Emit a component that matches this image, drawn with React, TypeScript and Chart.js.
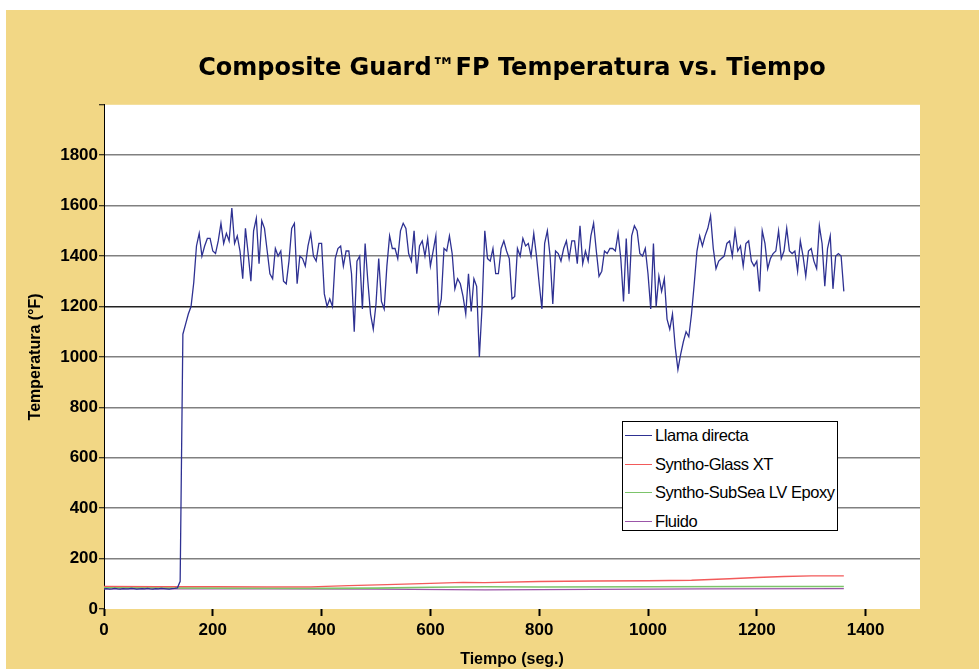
import React, { useEffect, useRef } from "react";
import { Chart, registerables } from "chart.js";

Chart.register(...registerables);

// Sampling interval of the "Llama directa" record (seconds)
const SAMPLE_STEP_S = 5;

// Llama directa (°F), one value every 5 s from t = 0 to t = 1360 s
const LLAMA_DIRECTA = [
  80, 81, 79, 80, 82, 80, 79, 81, 80, 80, 82, 81, 79, 80, 81, 80, 82, 80, 79, 81, 80, 82, 81, 80, 79, 81, 82,
  84, 110, 1090,
  1130, 1170, 1200, 1295, 1440, 1490, 1400, 1440, 1470, 1470, 1420, 1410, 1460, 1530, 1450, 1490, 1460, 1590,
  1450, 1480, 1420, 1310, 1510, 1410, 1300, 1500, 1550, 1370, 1540, 1510, 1420, 1330, 1310, 1430, 1400, 1420,
  1300, 1290, 1380, 1510, 1530, 1290, 1400, 1390, 1360, 1440, 1490, 1400, 1380, 1450, 1450, 1250, 1200, 1230,
  1200, 1390, 1430, 1440, 1360, 1420, 1420,
  1330, 1100, 1380, 1400, 1190, 1450, 1300, 1170, 1110, 1210, 1390, 1220, 1190, 1360, 1480, 1430, 1430, 1390,
  1500, 1530, 1510, 1410, 1380, 1500, 1330, 1440, 1460, 1400, 1470, 1360, 1420, 1480, 1180, 1230, 1430, 1420,
  1480, 1410, 1270, 1310, 1290, 1240, 1170, 1330, 1180, 1310, 1280, 1000, 1200, 1500, 1390, 1380, 1430, 1330,
  1330, 1430, 1460, 1420, 1390, 1230, 1240, 1430, 1400, 1470, 1440, 1450, 1400,
  1490, 1400, 1290, 1190, 1450, 1500, 1400, 1210, 1420, 1410, 1380, 1430, 1460, 1390, 1460, 1460, 1370, 1520,
  1370, 1420, 1380, 1480, 1530, 1420, 1320, 1340, 1420, 1410, 1430, 1430, 1420, 1490, 1390, 1220, 1470, 1250,
  1480, 1520, 1500, 1410, 1400, 1430, 1330, 1190, 1450, 1200, 1320, 1260, 1310, 1150, 1110, 1170, 1040, 950,
  1010, 1060, 1100, 1080, 1170, 1290, 1420, 1480, 1440, 1480, 1510, 1560,
  1430, 1350, 1380, 1390, 1400, 1450, 1460, 1400, 1500, 1420, 1440, 1360, 1450, 1460, 1380, 1360, 1380, 1260,
  1500, 1450, 1350, 1390, 1410, 1420, 1500, 1390, 1420, 1510, 1420, 1410, 1420, 1340, 1460, 1400, 1320, 1420,
  1430, 1380, 1350, 1520, 1450, 1280, 1430, 1480, 1270, 1400, 1410, 1400, 1260,
];

// Syntho-Glass XT
const GLASS_T = [0, 100, 200, 300, 380, 450, 520, 600, 660, 700, 800, 900, 1000, 1080, 1150, 1200, 1250, 1300, 1360];
const GLASS_V = [90, 89, 89, 88, 88, 93, 97, 102, 106, 105, 109, 111, 112, 114, 120, 125, 129, 131, 131];

// Syntho-SubSea LV Epoxy
const SUBSEA_T = [0, 200, 400, 500, 600, 700, 800, 1000, 1200, 1360];
const SUBSEA_V = [84, 83, 82, 83, 86, 88, 87, 88, 89, 89];

// Fluido
const FLUIDO_T = [0, 300, 500, 700, 900, 1100, 1360];
const FLUIDO_V = [80, 80, 79, 76, 78, 80, 81];

const SERIES_NAMES = ["Llama directa", "Syntho-Glass XT", "Syntho-SubSea LV Epoxy", "Fluido"];
const SERIES_COLORS = ["#2E3192", "#F25A5A", "#7CC46A", "#9B55A8"];

const TITLE = "Composite Guard\u2122FP Temperatura vs. Tiempo";
const X_TITLE = "Tiempo (seg.)";
const Y_TITLE = "Temperatura (\u00B0F)";
const X_MIN = 0;
const X_MAX = 1500;
const X_STEP = 200;
const Y_MIN = 0;
const Y_MAX = 2000;
const Y_STEP = 200;

const toPoints = (ts: number[], vs: number[]) => vs.map((v, i) => ({ x: ts[i], y: v }));
const llamaPoints = LLAMA_DIRECTA.map((v, i) => ({ x: i * SAMPLE_STEP_S, y: v }));

const plotBg = {
  id: "plotBg",
  beforeDraw(chart: any) {
    const { ctx, chartArea } = chart;
    ctx.save();
    ctx.fillStyle = "#FFFFFF";
    ctx.fillRect(chartArea.left, chartArea.top, chartArea.right - chartArea.left, chartArea.bottom - chartArea.top);
    ctx.restore();
  },
};

const FONT = "'Liberation Sans', Arial, Helvetica, sans-serif";

export default function App() {
  const ref = useRef<HTMLCanvasElement>(null);

  useEffect(() => {
    const chart = new Chart(ref.current as HTMLCanvasElement, {
      type: "line",
      data: {
        datasets: [
          { label: SERIES_NAMES[0], data: llamaPoints, borderColor: SERIES_COLORS[0], borderWidth: 1.3 },
          { label: SERIES_NAMES[1], data: toPoints(GLASS_T, GLASS_V), borderColor: SERIES_COLORS[1], borderWidth: 1.3 },
          { label: SERIES_NAMES[2], data: toPoints(SUBSEA_T, SUBSEA_V), borderColor: SERIES_COLORS[2], borderWidth: 1.6 },
          { label: SERIES_NAMES[3], data: toPoints(FLUIDO_T, FLUIDO_V), borderColor: SERIES_COLORS[3], borderWidth: 1.3 },
        ].map((d) => ({ ...d, pointRadius: 0, fill: false, tension: 0 })),
      },
      options: {
        responsive: false,
        animation: false,
        devicePixelRatio: 1,
        layout: { padding: { top: 0, right: 59, bottom: 0, left: 0 } },
        plugins: {
          legend: { display: false },
          tooltip: { enabled: false },
          title: {
            display: true,
            text: TITLE,
            fullSize: false,
            color: "#000",
            font: { family: "'DejaVu Sans', sans-serif", size: 24, weight: "bold", lineHeight: 1.2 },
            padding: { top: 44, bottom: 22 },
          },
        },
        scales: {
          x: {
            type: "linear",
            min: X_MIN,
            max: X_MAX,
            ticks: {
              stepSize: X_STEP,
              includeBounds: false,
              color: "#000",
              padding: 4,
              maxRotation: 0,
              font: { family: FONT, size: 17, weight: "bold" },
              callback: (v: any) => String(v),
            },
            grid: { drawOnChartArea: false, tickLength: 7, tickColor: "#000", tickWidth: 2 },
            border: { display: false },
            title: {
              display: true,
              text: X_TITLE,
              color: "#000",
              padding: 0,
              font: { family: FONT, size: 16, weight: "bold", lineHeight: 1.2 },
            },
            afterFit: (s: any) => {
              s.height = 60;
            },
          },
          y: {
            type: "linear",
            min: Y_MIN,
            max: Y_MAX,
            ticks: {
              stepSize: Y_STEP,
              color: "#000",
              padding: 1,
              font: { family: FONT, size: 17, weight: "bold" },
              callback: (v: any) => (v === Y_MAX ? "" : String(v)),
            },
            grid: {
              color: (c: any) => {
                const v = c.tick ? c.tick.value : null;
                if (v === Y_MIN || v === Y_MAX) return "rgba(0,0,0,0)";
                if (v === 1200) return "#222222";
                return "#808080";
              },
              lineWidth: 1.5,
              tickLength: 5,
              tickColor: "#000",
              tickWidth: 1,
            },
            border: { display: true, color: "#000", width: 1 },
            title: {
              display: true,
              text: Y_TITLE,
              color: "#000",
              padding: { top: 20, bottom: 0 },
              font: { family: FONT, size: 16, weight: "bold", lineHeight: 1.2 },
            },
            afterFit: (s: any) => {
              s.width = 98;
            },
          },
        },
      } as any,
      plugins: [plotBg],
    });
    return () => chart.destroy();
  }, []);

  return (
    <div style={{ position: "absolute", left: 0, top: 0, width: 979, height: 669, background: "#FFFFFF", overflow: "hidden" }}>
      <div style={{ position: "absolute", left: 6, top: 10, width: 973, height: 659, background: "#F2D785" }}>
        <canvas ref={ref} width={973} height={659} style={{ display: "block", width: 973, height: 659 }} />
      </div>
      <div
        style={{
          position: "absolute",
          left: 622,
          top: 421,
          width: 216,
          height: 110,
          boxSizing: "border-box",
          border: "1px solid #000",
          background: "#FFFFFF",
          fontFamily: FONT,
          fontSize: 16.5,
          letterSpacing: "-0.45px",
          color: "#000",
        }}
      >
        {SERIES_NAMES.map((name, i) => (
          <div
            key={name}
            style={{ position: "absolute", left: 0, top: [3, 32, 60, 89][i], height: 20, display: "flex", alignItems: "center", whiteSpace: "nowrap" }}
          >
            <div style={{ width: 27, marginLeft: 2, borderTop: `1.5px solid ${SERIES_COLORS[i]}` }} />
            <span style={{ marginLeft: 3 }}>{name}</span>
          </div>
        ))}
      </div>
    </div>
  );
}
